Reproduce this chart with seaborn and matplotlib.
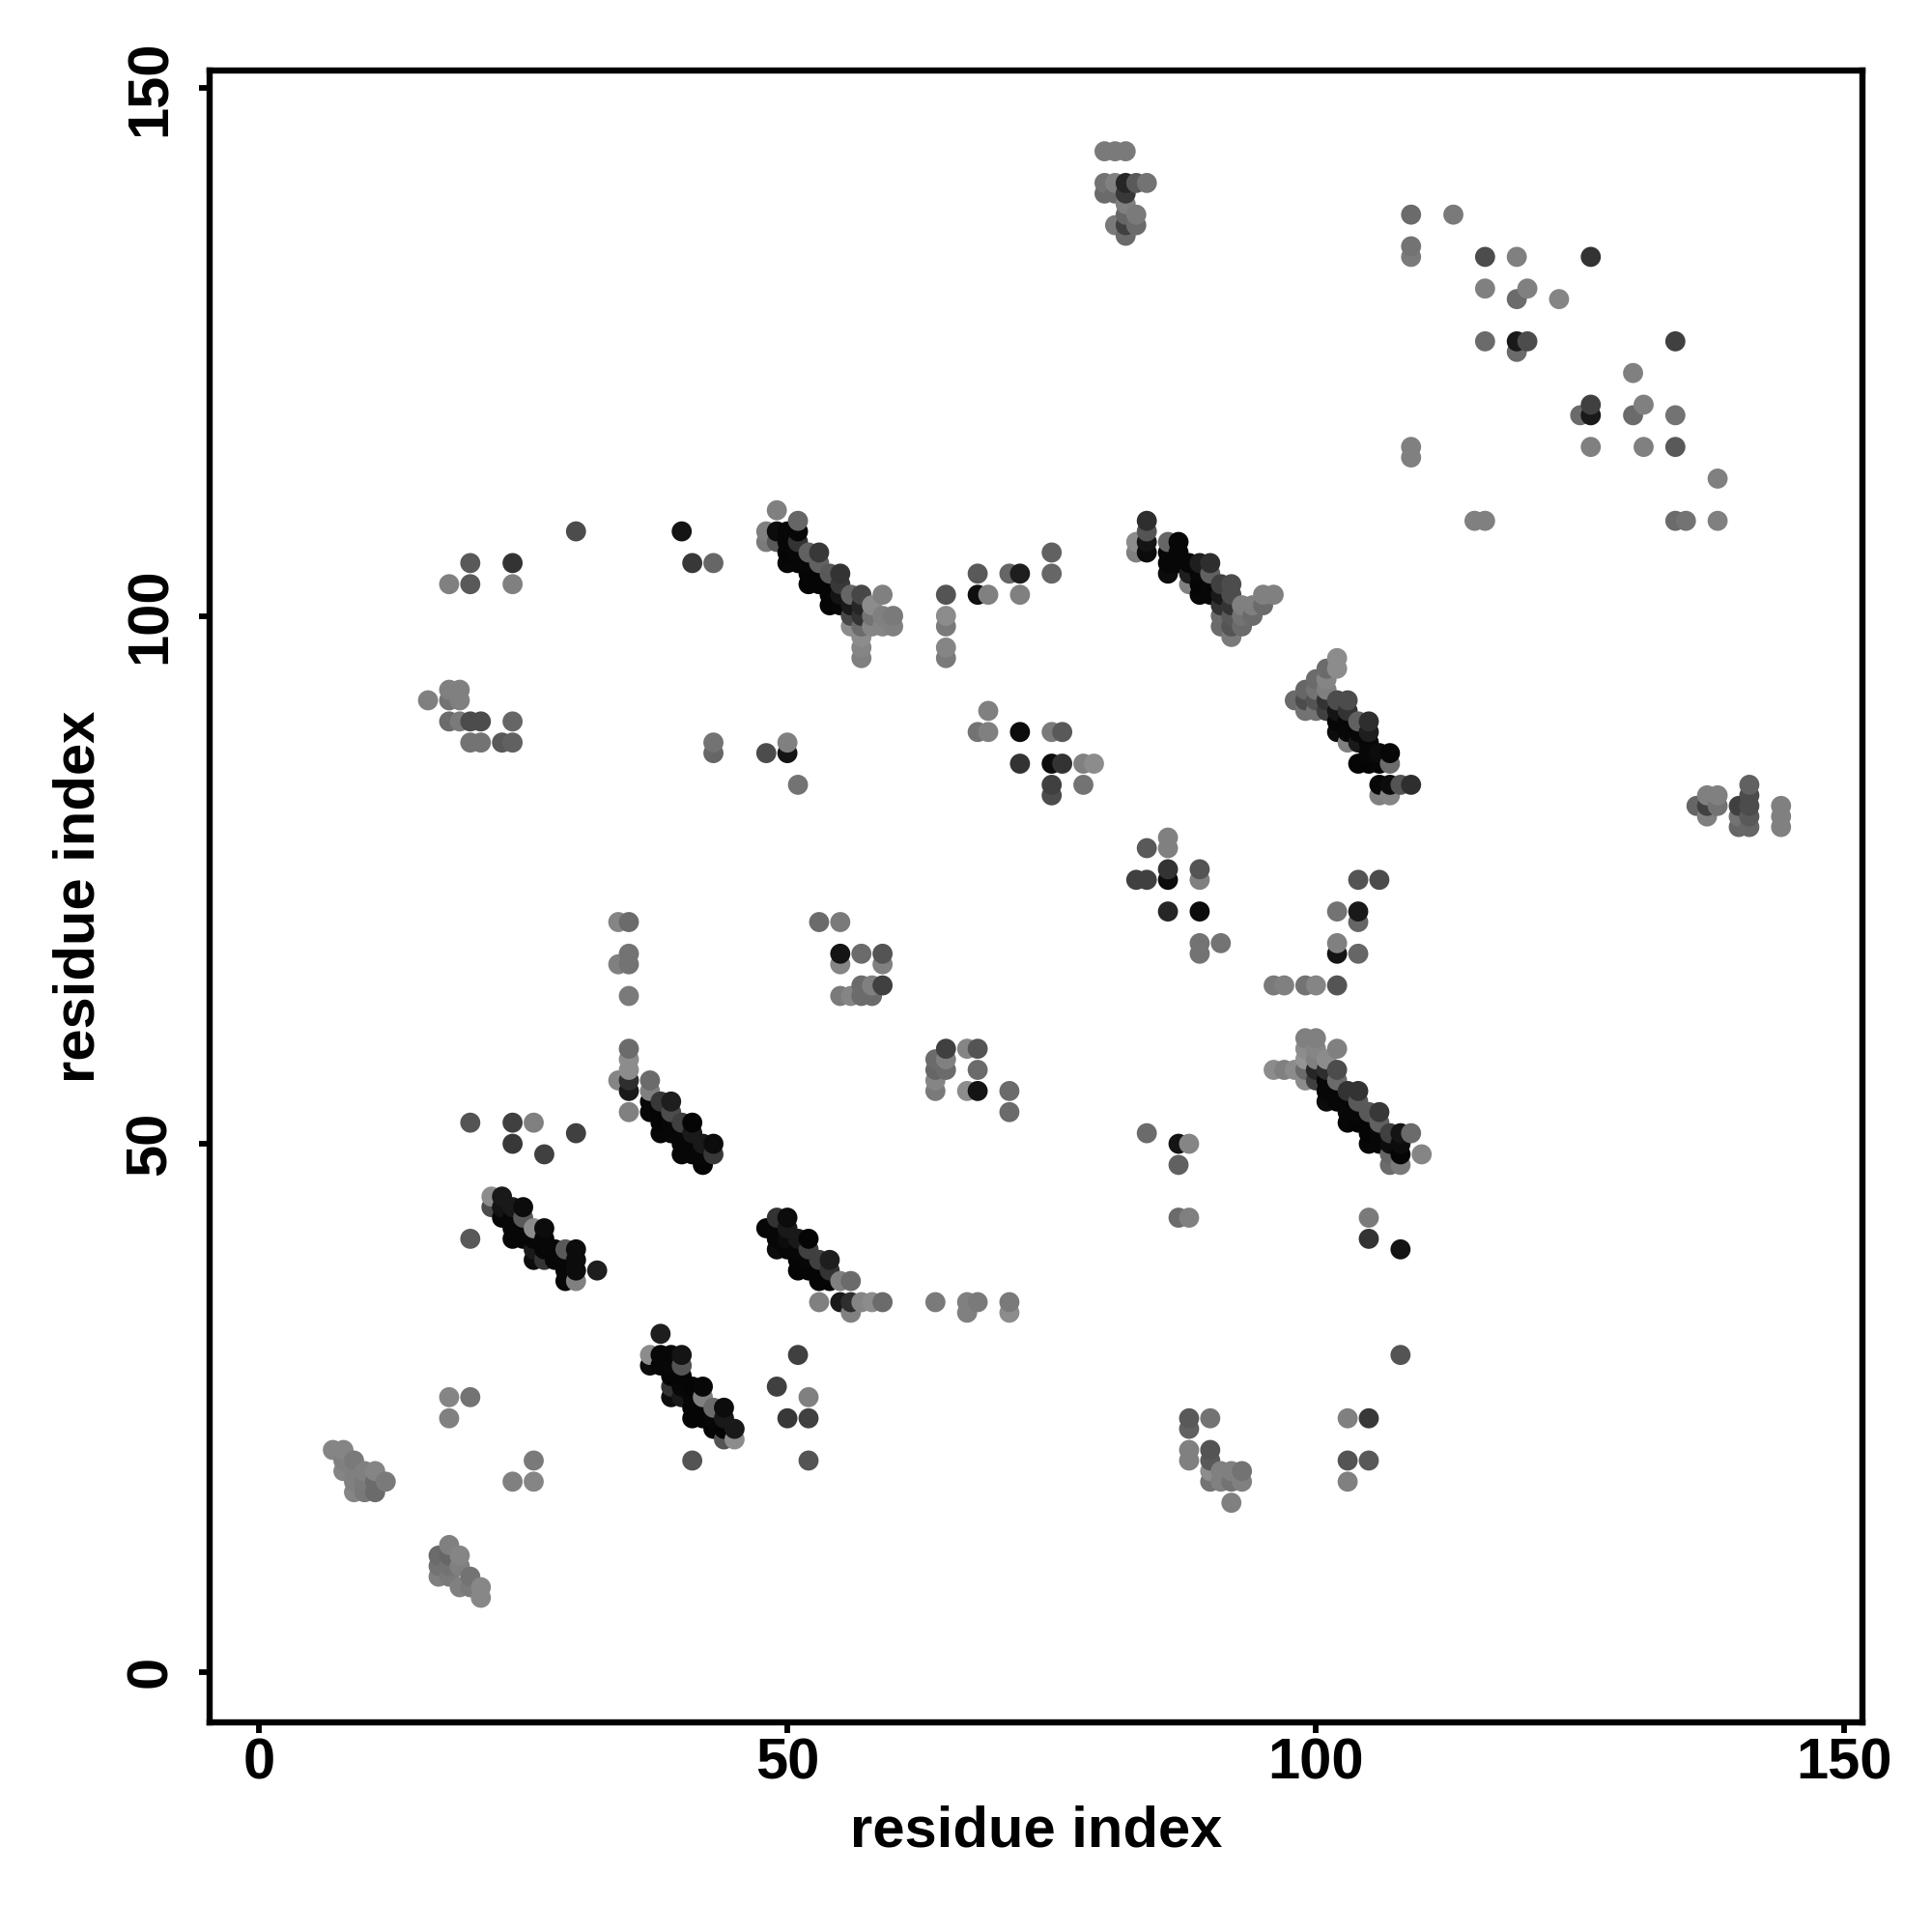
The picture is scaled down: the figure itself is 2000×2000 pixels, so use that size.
import matplotlib
matplotlib.use("Agg")
import matplotlib.pyplot as plt
import pandas as pd
import seaborn as sns

# contact map values: residue x, residue y, grey level

# bottom left blobs
blob_a_x = [7, 8, 8, 9, 8, 9, 10, 11, 9, 10, 11, 12, 9, 10, 11]
blob_a_y = [21, 21, 20, 20, 19, 19, 19, 19, 18, 18, 18, 18, 17, 17, 17]
blob_a_s = [.52, .52, .5, .48, .52, .5, .5, .52, .5, .48, .42, .48, .52, .47, .42]

blob_b_x = [18, 17, 18, 19, 17, 18, 19, 17, 18, 20, 19, 20, 21, 21]
blob_b_y = [12, 11, 11, 11, 10, 10, 10, 9, 9, 9, 8, 8, 8, 7]
blob_b_s = [.5, .42, .4, .52, .45, .45, .5, .5, .48, .45, .5, .48, .53, .53]

# singles in the lower part
low_x = [18, 20, 18, 26, 24, 26, 41, 20, 24, 26, 24, 27, 30, 20, 51, 49, 52, 50, 52, 52,
         88, 88, 88, 88, 90, 90, 90, 90, 90, 91, 92, 93, 91, 92, 93, 92,
         103, 105, 103, 105, 103, 108, 105, 105, 108, 84, 87, 88, 87, 87, 88]
low_y = [26, 26, 24, 20, 18, 18, 20, 52, 52, 52, 50, 49, 51, 41, 30, 27, 26, 24, 24, 20,
         24, 23, 21, 20, 24, 21, 20, 19, 18, 19, 19, 19, 18, 18, 18, 16,
         24, 24, 20, 20, 18, 30, 43, 41, 40, 51, 50, 50, 48, 43, 43]
low_s = [.52, .45, .5, .48, .5, .52, .33, .33, .25, .5, .22, .25, .25, .35, .25, .25, .5, .22, .25, .33,
         .35, .38, .5, .5, .45, .33, .35, .55, .45, .5, .5, .45, .5, .45, .5, .5,
         .5, .22, .33, .35, .5, .33, .48, .2, .08, .42, .08, .52, .38, .42, .5]

# diagonal streaks
diag_c_x = [22, 23, 22, 23, 23, 24, 25, 24, 25, 24, 25, 26, 27, 24, 25, 26, 27,
            26, 27, 28, 29, 30, 26, 27, 28, 29, 30, 29, 30, 29, 30, 32]
diag_c_y = [45, 45, 44, 44, 43, 44, 44, 43, 43, 42, 42, 42, 42, 41, 41, 41, 41,
            40, 40, 40, 40, 40, 39, 39, 39, 39, 39, 38, 38, 37, 37, 38]
diag_c_s = [.55, .1, .3, .08, .03, .1, .05, .03, .35, .03, .03, .55, .05, .03, .03, .03, .03,
            .1, .03, .03, .35, .05, .05, .2, .03, .03, .05, .03, .05, .03, .5, .12]

diag_d_x = [35, 34, 35, 35, 35, 37, 37, 37, 37, 38, 39, 38, 38, 38, 39, 39, 39,
            40, 41, 40, 41, 40, 41, 42, 43, 40, 41, 42, 43, 42]
diag_d_y = [59, 56, 58, 57, 56, 56, 55, 54, 53, 54, 54, 53, 52, 51, 53, 52, 51,
            52, 52, 51, 51, 50, 50, 50, 50, 49, 49, 49, 49, 48]
diag_d_s = [.42, .52, .55, .55, .18, .42, .5, .03, .03, .22, .12, .02, .02, .03, .3, .03, .03,
            .25, .02, .03, .1, .03, .03, .1, .05, .03, .03, .03, .22, .02]

diag_e_x = [48, 49, 50, 49, 50, 49, 49, 50, 51, 52, 50, 51, 52, 51, 52, 53, 54,
            51, 52, 53, 54, 53, 54, 55, 56]
diag_e_y = [42, 43, 43, 42, 42, 40, 41, 41, 41, 41, 40, 40, 40, 39, 39, 39, 39,
            38, 38, 38, 38, 37, 37, 37, 37]
diag_e_s = [.03, .2, .05, .03, .1, .05, .03, .05, .1, .02, .03, .03, .25, .02, .03, .25, .12,
            .02, .02, .02, .2, .02, .02, .5, .42]

row_35_x = [53, 55, 56, 57, 58, 59, 64, 67, 68, 71, 56, 67, 71]
row_35_y = [35, 35, 35, 35, 35, 35, 35, 35, 35, 35, 34, 34, 34]
row_35_s = [.5, .1, .18, .52, .55, .42, .48, .5, .48, .48, .5, .5, .55]

diag_f_x = [38, 37, 38, 39, 40, 37, 38, 39, 40, 39, 40, 39, 40, 41, 42, 39, 40, 41, 42,
            41, 42, 43, 44, 41, 42, 43, 44, 43, 44, 45, 44, 45]
diag_f_y = [32, 30, 30, 30, 30, 29, 29, 29, 29, 28, 28, 27, 27, 27, 27, 26, 26, 26, 26,
            25, 25, 25, 25, 24, 24, 24, 24, 23, 23, 23, 22, 22]
diag_f_s = [.12, .55, .03, .03, .08, .05, .03, .03, .33, .02, .02, .2, .03, .02, .03, .05, .1, .03, .5,
            .02, .02, .42, .05, .02, .02, .03, .1, .02, .02, .1, .33, .55]

diag_g_x = [96, 97, 99, 100, 102, 99, 100, 99, 100, 102, 99, 100, 101,
            96, 97, 98, 99, 100, 101, 102, 99, 100, 101, 102, 101, 102, 103, 104,
            101, 102, 103, 104, 103, 104, 105, 106, 103, 104, 105, 106,
            105, 106, 107, 108, 109, 105, 106, 107, 108, 107, 108, 110, 107, 108]
diag_g_y = [65, 65, 65, 65, 65, 60, 60, 59, 59, 59, 58, 58, 58,
            57, 57, 57, 57, 57, 57, 57, 56, 56, 56, 56, 55, 55, 55, 55,
            54, 54, 54, 54, 53, 53, 53, 53, 52, 52, 52, 52,
            51, 51, 51, 51, 51, 50, 50, 50, 50, 49, 49, 49, 48, 48]
diag_g_s = [.48, .5, .45, .52, .33, .5, .5, .55, .52, .5, .58, .5, .55,
            .55, .5, .55, .42, .15, .18, .3, .55, .25, .03, .42, .03, .03, .2, .2,
            .05, .03, .03, .35, .03, .03, .35, .22, .03, .02, .02, .38,
            .02, .03, .25, .08, .42, .03, .03, .05, .05, .4, .02, .52, .42, .48]

diag_h_x = [49, 51, 48, 49, 50, 51, 48, 49, 50, 51, 50, 51, 52, 53, 50, 51, 52, 53,
            52, 53, 54, 55, 52, 53, 54, 55, 54, 55, 56, 57, 59, 54, 55, 56, 57, 58,
            56, 57, 58, 59, 60, 56, 57, 58, 59, 60, 57, 57, 57]
diag_h_y = [110, 109, 108, 108, 108, 108, 107, 107, 107, 107, 106, 106, 106, 106, 105, 105, 105, 105,
            104, 104, 104, 104, 103, 103, 103, 103, 102, 102, 102, 102, 102, 101, 101, 101, 101, 101,
            100, 100, 100, 100, 100, 99, 99, 99, 99, 99, 98, 97, 96]
diag_h_s = [.5, .4, .5, .05, .03, .03, .48, .35, .03, .2, .02, .03, .38, .22, .03, .03, .03, .38,
            .02, .02, .35, .2, .02, .02, .02, .22, .02, .08, .4, .28, .5, .02, .03, .1, .15, .55,
            .28, .2, .45, .5, .48, .55, .42, .52, .52, .5, .55, .52, .5]

diag_i_x = [84, 84, 83, 84, 83, 84, 86, 87, 86, 87, 86, 87, 88, 89, 90, 86, 88, 89, 90,
            88, 89, 90, 91, 92, 89, 90, 91, 92, 95, 96, 91, 92, 93, 94, 95,
            91, 92, 93, 94, 91, 92, 93, 92]
diag_i_y = [109, 108, 107, 107, 106, 106, 107, 107, 106, 106, 105, 105, 105, 105, 105, 104, 104, 104, 104,
            103, 103, 103, 103, 103, 102, 102, 102, 102, 102, 102, 101, 101, 101, 101, 101,
            100, 100, 100, 100, 99, 99, 99, 98]
diag_i_s = [.18, .33, .55, .08, .5, .05, .4, .03, .03, .03, .03, .03, .03, .12, .18, .05, .12, .03, .38,
            .5, .02, .03, .25, .3, .03, .03, .1, .3, .5, .5, .2, .2, .5, .5, .42,
            .42, .35, .45, .42, .42, .33, .42, .48]

diag_j_x = [102, 102, 101, 100, 101, 99, 100, 101, 98, 99, 100, 101, 102, 103,
            99, 100, 101, 102, 103, 102, 103, 104, 105, 102, 103, 104, 105,
            103, 104, 105, 105, 106, 107, 104, 105, 106, 107, 106, 107, 108, 109, 106, 107]
diag_j_y = [96, 95, 95, 94, 94, 93, 93, 93, 92, 92, 92, 92, 92, 92,
            91, 91, 91, 91, 91, 90, 90, 90, 90, 89, 89, 89, 89,
            88, 88, 88, 87, 87, 87, 86, 86, 86, 86, 84, 84, 84, 84, 83, 83]
diag_j_s = [.55, .55, .42, .42, .52, .4, .45, .5, .42, .3, .33, .2, .3, .3,
            .45, .45, .25, .08, .2, .03, .03, .38, .18, .05, .03, .03, .12,
            .5, .1, .03, .03, .05, .03, .02, .02, .03, .42, .03, .05, .33, .18, .5, .52]

# 4x4 blocks in the middle
mid_a_x = [34, 35, 35, 34, 35, 35, 35, 35, 53, 55, 55, 57, 59, 55, 59, 55, 56, 57, 58, 57, 58, 59]
mid_a_y = [71, 71, 68, 67, 67, 64, 55, 53, 71, 71, 68, 68, 68, 67, 67, 64, 64, 64, 64, 65, 65, 65]
mid_a_s = [.52, .42, .45, .5, .45, .48, .1, .5, .42, .48, .08, .42, .33, .52, .5, .48, .52, .42, .42, .42, .5, .25]

mid_b_x = [65, 67, 68, 64, 65, 64, 65, 64, 64, 67, 68, 68, 71, 71]
mid_b_y = [59, 59, 59, 58, 58, 57, 57, 56, 55, 55, 55, 57, 55, 53]
mid_b_s = [.25, .52, .33, .42, .5, .4, .42, .52, .48, .55, .08, .42, .42, .42]

mid_c_x = [84, 86, 86, 83, 84, 86, 86, 89, 89, 86, 89, 89, 91, 89,
           104, 106, 102, 104, 104, 102, 102, 104]
mid_c_y = [78, 79, 78, 75, 75, 76, 75, 76, 75, 72, 72, 69, 69, 68,
           75, 75, 72, 72, 71, 69, 68, 68]
mid_c_s = [.35, .5, .5, .25, .25, .2, .05, .33, .5, .15, .05, .45, .45, .45,
           .33, .3, .45, .1, .4, .5, .08, .4]

mid_d_x = [16, 18, 18, 19, 19, 18, 19, 20, 21, 24, 20, 21, 23, 24,
           43, 43, 48, 50, 50, 51,
           69, 68, 69, 72, 75, 76, 72, 75, 76, 78, 79, 75, 75, 78]
mid_d_y = [92, 92, 93, 93, 92, 90, 90, 90, 90, 90, 88, 88, 88, 88,
           88, 87, 87, 88, 87, 84,
           91, 89, 89, 89, 89, 89, 86, 86, 86, 86, 86, 84, 83, 84]
mid_d_s = [.5, .45, .5, .5, .5, .42, .48, .3, .3, .4, .45, .45, .35, .38,
           .45, .4, .3, .5, .08, .45,
           .5, .45, .5, .05, .48, .35, .2, .05, .2, .5, .55, .25, .3, .45]

# upper band
up_a_x = [18, 20, 20, 24, 24, 30, 40, 41, 43, 65, 65, 65, 65, 65, 68, 69, 72, 68, 71, 72, 75, 75]
up_a_y = [103, 103, 105, 105, 103, 108, 108, 105, 105, 102, 100, 99, 97, 96, 102, 102, 102, 104, 104, 104, 104, 106]
up_a_s = [.5, .35, .35, .2, .5, .3, .08, .22, .4, .33, .55, .48, .52, .48, .06, .5, .5, .35, .4, .12, .4, .38]

top_x = [80, 81, 82, 80, 81, 83, 84, 82, 80, 81, 82, 82, 82, 83, 81, 82, 83, 82]
top_y = [144, 144, 144, 141, 141, 141, 141, 141, 140, 140, 140, 139, 138, 138, 137, 137, 137, 136]
top_s = [.48, .48, .48, .45, .5, .35, .45, .15, .42, .42, .22, .5, .4, .48, .48, .25, .42, .42]

far_x = [109, 113, 109, 109, 116, 119, 126, 116, 120, 119, 123, 116, 119, 120, 119, 134, 130, 131,
         130, 134, 125, 126, 126, 126, 131, 134, 109, 109, 138, 115, 116, 134, 135, 138]
far_y = [138, 138, 135, 134, 134, 134, 134, 131, 131, 130, 130, 126, 126, 126, 125, 126, 123, 120,
         119, 119, 119, 120, 119, 116, 116, 116, 116, 115, 113, 109, 109, 109, 109, 109]
far_s = [.42, .48, .45, .48, .3, .5, .2, .5, .5, .42, .52, .42, .1, .3, .42, .25, .5, .5,
         .42, .45, .42, .25, .1, .5, .5, .35, .5, .5, .5, .5, .5, .42, .45, .5]

side_x = [136, 137, 138, 137, 138, 137, 140, 141, 140, 141, 140, 141, 141, 141, 144, 144, 144]
side_y = [82, 83, 83, 82, 82, 81, 82, 82, 81, 81, 80, 80, 84, 83, 82, 81, 80]
side_s = [.4, .5, .5, .25, .45, .5, .25, .3, .45, .35, .4, .4, .38, .3, .5, .5, .5]

tick_vals = [0, 50, 100, 150]

groups = [
    (blob_a_x, blob_a_y, blob_a_s), (blob_b_x, blob_b_y, blob_b_s), (low_x, low_y, low_s),
    (diag_c_x, diag_c_y, diag_c_s), (diag_d_x, diag_d_y, diag_d_s), (diag_e_x, diag_e_y, diag_e_s),
    (row_35_x, row_35_y, row_35_s), (diag_f_x, diag_f_y, diag_f_s), (diag_g_x, diag_g_y, diag_g_s),
    (diag_h_x, diag_h_y, diag_h_s), (diag_i_x, diag_i_y, diag_i_s), (diag_j_x, diag_j_y, diag_j_s),
    (mid_a_x, mid_a_y, mid_a_s), (mid_b_x, mid_b_y, mid_b_s), (mid_c_x, mid_c_y, mid_c_s),
    (mid_d_x, mid_d_y, mid_d_s), (up_a_x, up_a_y, up_a_s), (top_x, top_y, top_s),
    (far_x, far_y, far_s), (side_x, side_y, side_s),
]
df = pd.concat([pd.DataFrame({"x": gx, "y": gy, "s": gs}) for gx, gy, gs in groups])
df = df.drop_duplicates(["x", "y"]).sort_values(["x", "y"])

sns.set_style("white")
plt.rcParams["font.family"] = ["Liberation Sans", "DejaVu Sans"]
plt.rcParams["text.color"] = "black"
plt.rcParams["axes.labelcolor"] = "black"
plt.rcParams["xtick.color"] = "black"
plt.rcParams["ytick.color"] = "black"

fig = plt.figure(figsize=(10, 10), dpi=200)
ax = fig.add_axes([217 / 2000, 1 - 1783 / 2000, (1928 - 217) / 2000, (1783 - 73) / 2000])
sns.scatterplot(data=df, x="x", y="y", hue="s", palette="gray", hue_norm=(0, 1),
                s=56, linewidth=0, legend=False, ax=ax)

ax.set_xlim(-4.66, 151.7)
ax.set_ylim(-4.8, 151.65)
ax.set_xticks(tick_vals)
ax.set_yticks(tick_vals)
ax.set_xlabel("residue index", fontsize=21.5, fontweight="bold", labelpad=5.5)
ax.set_ylabel("residue index", fontsize=21.5, fontweight="bold", labelpad=7)
ax.tick_params(axis="x", length=4, width=2.1, labelsize=21.5, pad=1.5, bottom=True)
ax.tick_params(axis="y", length=4, width=2.1, labelsize=21.5, pad=8, left=True)
for lab in ax.get_xticklabels():
    lab.set_fontweight("bold")
for lab in ax.get_yticklabels():
    lab.set_fontweight("bold")
    lab.set_rotation(90)
    lab.set_va("center")
for sp in ax.spines.values():
    sp.set_linewidth(2.3)
    sp.set_color("black")

fig.savefig("out.png", dpi=200)
